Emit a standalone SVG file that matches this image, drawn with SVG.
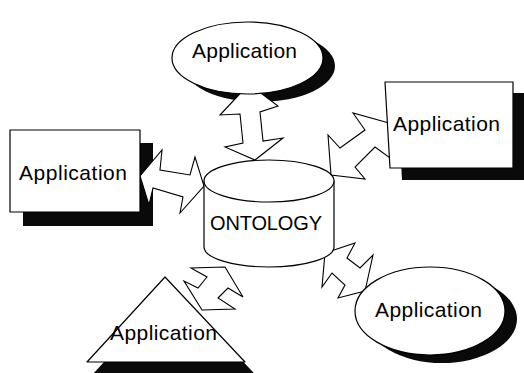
<svg xmlns="http://www.w3.org/2000/svg" width="524" height="373" viewBox="0 0 524 373">
  <style>
    .shape { fill: #fff; stroke: #000; stroke-width: 1.2; stroke-linejoin: round; }
    .shadow { fill: #0a0a0a; stroke: none; }
    .arrow { fill: #fff; stroke: #000; stroke-width: 1.1; stroke-linejoin: miter; }
    .label { font-family: "Liberation Sans", Arial, sans-serif; font-size: 21px; fill: #000; }
    .title { font-size: 20px; }
  </style>

  <!-- drop shadows sit beneath the connectors -->
  <g id="shadows">
    <ellipse class="shadow" cx="259.5" cy="66" rx="75.5" ry="36"/>
    <rect class="shadow" x="23" y="143" width="130" height="83"/>
    <polygon class="shadow" points="397,93 525,93 525,180 402,180"/>
    <ellipse class="shadow" cx="442" cy="319" rx="75" ry="44"/>
    <polygon class="shadow" points="173,287 267,387 81,387"/>
  </g>

  <!-- double-headed block arrows between the ontology and each application -->
  <g id="connectors">
    <polygon class="arrow" points="249,84 278,106 260,112 263,141 283,138 255,160 225,147 243,143 240,114 220,115"/>
    <polygon class="arrow" points="140,176 162,150 160,170 190,175 195,157 204,186 180,213 183,197 153,188 149,205"/>
    <polygon class="arrow" points="389,123 353,113 365,130 340,148 328,135 331,175 365,179 355,167 375,147 390,158"/>
    <polygon class="arrow" points="325,253 355,243 347,258 360,268 373,255 365,291 338,298 345,285 332,273 322,287"/>
    <polygon class="arrow" points="225,267 243,297 228,288 218,298 235,309 202,310 184,281 198,288 207,277 191,268"/>
  </g>

  <g id="app-top">
    <ellipse class="shape" cx="247.5" cy="58" rx="75.5" ry="36"/>
    <text class="label" x="192" y="58" textLength="105" lengthAdjust="spacing">Application</text>
  </g>

  <g id="app-left">
    <rect class="shape" x="10" y="130" width="130" height="82"/>
    <text class="label" x="19" y="180" textLength="108" lengthAdjust="spacing">Application</text>
  </g>

  <g id="app-right">
    <polygon class="shape" points="385,82 513,82 513,168 390,168"/>
    <text class="label" x="393" y="131" textLength="107" lengthAdjust="spacing">Application</text>
  </g>

  <g id="ontology">
    <path class="shape" d="M204,181 A65,21 0 0,1 334,181 L334,247 A65,20 0 0,1 204,247 Z"/>
    <path class="shape" fill="none" d="M204,181 A65,21 0 0,0 334,181"/>
    <text class="label title" x="210" y="230" textLength="112" lengthAdjust="spacing">ONTOLOGY</text>
  </g>

  <g id="app-bottom-right">
    <ellipse class="shape" cx="430" cy="311" rx="75" ry="44"/>
    <text class="label" x="375" y="317" textLength="107" lengthAdjust="spacing">Application</text>
  </g>

  <g id="app-bottom-left">
    <polygon class="shape" points="165,277 245,362 87,362"/>
    <text class="label" x="110" y="340" textLength="107" lengthAdjust="spacing">Application</text>
  </g>
</svg>
